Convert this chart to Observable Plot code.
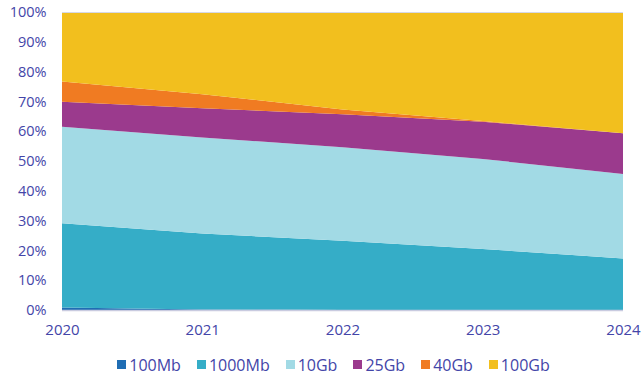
<!DOCTYPE html>
<html>
<head>
<meta charset="utf-8">
<script src="https://cdn.jsdelivr.net/npm/d3@7"></script>
<script src="https://cdn.jsdelivr.net/npm/@observablehq/plot@0.6"></script>
<style>
  html, body { margin: 0; padding: 0; background: #fff; }
  body { width: 643px; height: 380px; overflow: hidden; font-family: "Open Sans", sans-serif; }
  #legend { display: flex; justify-content: center; margin-top: 3px; margin-left: 40px; }
  #legend span[class$="-swatch"] > svg { margin-right: 3px !important; }
  #legend span[class$="-swatch"] { margin-right: 16px !important; }
</style>
</head>
<body>
<div id="chart"></div>
<div id="legend"></div>
<script>
// Share of server ports by speed, per year (percent)
const years = [2020, 2021, 2022, 2023, 2024];
const series = ["100Mb", "1000Mb", "10Gb", "25Gb", "40Gb", "100Gb"];
const colors = ["#1f6db3", "#35adc7", "#a2dae5", "#9b3a8d", "#f07b22", "#f2bf1e"];

const share100Mb  = [0.8, 0.2, 0, 0, 0];
const share1000Mb = [28.3, 25.5, 23.2, 20.5, 17.3];
const share10Gb   = [32.4, 32.2, 31.4, 30.2, 28.3];
const share25Gb   = [8.4, 9.8, 11.1, 12.5, 13.7];
const share40Gb   = [6.8, 4.7, 1.6, 0.2, 0];
const share100Gb  = [23.3, 27.6, 32.7, 36.6, 40.7];

const yTicks = [0, 10, 20, 30, 40, 50, 60, 70, 80, 90, 100];

const values = [share100Mb, share1000Mb, share10Gb, share25Gb, share40Gb, share100Gb];
const rows = [];
series.forEach((s, i) => {
  years.forEach((y, j) => rows.push({year: y, series: s, value: values[i][j]}));
});

const textColor = "#4345a8";

const chart = Plot.plot({
  width: 643,
  height: 345,
  marginLeft: 62,
  marginRight: 20,
  marginTop: 12,
  marginBottom: 35,
  style: {fontFamily: "Open Sans, sans-serif", fontSize: "14px", color: textColor},
  x: {domain: [2020, 2024], ticks: years, tickFormat: "d", label: null},
  y: {domain: [0, 100], ticks: yTicks, tickFormat: d => d + "%", label: null},
  color: {domain: series, range: colors},
  marks: [
    Plot.areaY(rows, {x: "year", y: "value", fill: "series", z: "series"}),
    Plot.ruleY([0], {stroke: "#c9cbe0", strokeWidth: 1.5}),
    Plot.ruleY([100], {stroke: "#d6d8e6", strokeWidth: 1}),
    Plot.axisX({ticks: years, tickFormat: "d", tickSize: 0, tickPadding: 14, label: null, fill: textColor, fontSize: 15}),
    Plot.axisY({ticks: yTicks, tickFormat: d => d + "%", tickSize: 0, tickPadding: 16, label: null, fill: textColor, fontSize: 14.5})
  ]
});
document.getElementById("chart").appendChild(chart);

const legend = Plot.legend({
  color: {domain: series, range: colors},
  legend: "swatches",
  swatchSize: 9,
  style: {fontFamily: "Open Sans, sans-serif", fontSize: "16px", color: textColor}
});
document.getElementById("legend").appendChild(legend);
</script>
</body>
</html>
